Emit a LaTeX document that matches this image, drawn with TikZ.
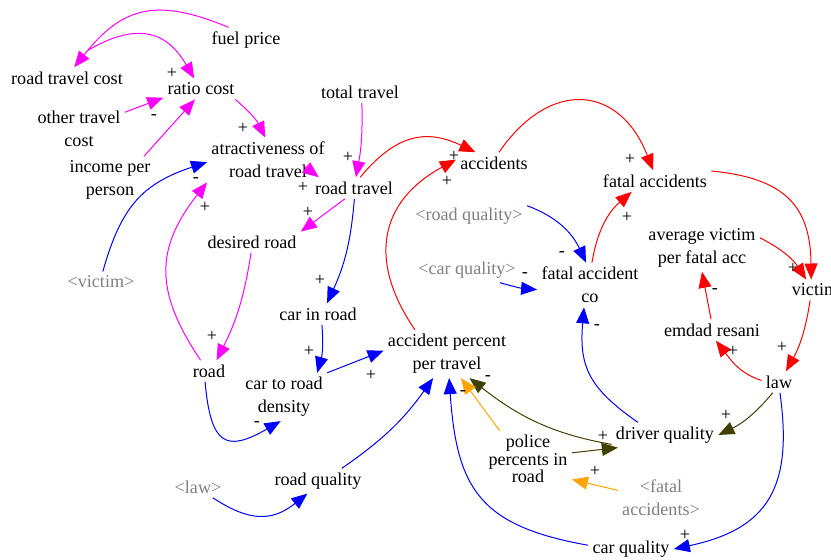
\documentclass[tikz,border=0pt]{standalone}
\usepackage{fontspec}
\setmainfont{Liberation Serif}
\usetikzlibrary{arrows.meta}
\definecolor{maglink}{RGB}{255,0,255}
\definecolor{olivelink}{RGB}{64,64,0}
\definecolor{orangelink}{RGB}{255,165,0}

\begin{document}
\begin{tikzpicture}[x=0.5pt, y=0.5pt, >={Triangle[length=8pt,width=6.5pt]},
    var/.style={align=center, inner sep=2pt, font=\fontsize{9.05}{11.5}\selectfont},
    ghost/.style={var, text=gray},
    sgn/.style={inner sep=0pt, font=\fontsize{9.05}{11.5}\selectfont},
    mag/.style={maglink, line width=0.5pt, ->},
    blu/.style={blue, line width=0.5pt, ->},
    rd/.style={red, line width=0.5pt, ->},
    olv/.style={olivelink, line width=0.5pt, ->},
    org/.style={orangelink, line width=0.5pt, ->}]
    \useasboundingbox (0,0) rectangle (831,-560);

    % Cost and attractiveness variables
    \node (rtc) at (67,-78) [var] {road travel cost};
    \node (fuel) at (246,-40) [var] {fuel price};
    \node (ratio) at (201,-89) [var] {ratio cost};
    \node (other) at (79,-129) [var] {other travel\\cost};
    \node (income) at (110,-180) [var] {income per\\person};
    \node (attr) at (268,-160) [var] {atractiveness of\\road travel};
    \node (total) at (360,-92) [var] {total travel};
    \node (rt) at (354,-188) [var] {road travel};
    \node (desired) at (252,-242) [var] {desired road};
    \node (vicref) at (101,-282) [ghost] {<victim>};

    % Road and density
    \node (carin) at (318,-314) [var] {car in road};
    \node (road) at (209,-371) [var] {road};
    \node (density) at (284,-397) [var] {car to road\\density};
    \node (app) at (447,-354) [var] {accident percent\\per travel};
    \node (rqual) at (318,-481) [var] {road quality};
    \node (lawref) at (198,-487) [ghost] {<law>};

    % Accidents, victims and law
    \node (acc) at (494,-163) [var] {accidents};
    \node (fatal) at (655,-181) [var] {fatal accidents};
    \node (rqref) at (469,-216) [ghost] {<road quality>};
    \node (cqref) at (467,-270) [ghost] {<car quality>};
    \node (fac) at (590,-285) [var] {fatal accident\\co};
    \node (avg) at (702,-248) [var] {average victim\\per fatal acc};
    \node (victim) at (815,-290) [var] {victim};
    \node (emdad) at (712,-330) [var] {emdad resani};
    \node (law) at (779,-382) [var] {law};
    \node (dq) at (665,-435) [var] {driver quality};
    \node (police) at (528,-459) [var, font=\fontsize{9.05}{8.8}\selectfont] {police\\percents in\\road};
    \node (faref) at (661,-498) [ghost] {<fatal\\accidents>};
    \node (cqual) at (631,-549) [var] {car quality};

    % Magenta links
    \draw[mag] (fuel.144) to[bend right=37, looseness=1.25] (rtc.56);
    \draw[mag] ([shift={(21,17)}]rtc.north) to[bend left=45, looseness=1.3] (ratio.123);
    \draw[mag] (other.20) -- (ratio.193);
    \draw[mag] (income.35) -- (ratio.240);
    \draw[mag] (ratio.-17) to[bend left=12] (attr.97);
    \draw[mag] (total.-80) to[bend left=6] (rt.80);
    \draw[mag] ([shift={(35,-5)}]attr.center) -- (rt.163);
    \draw[mag] (rt.230) -- (desired.12);
    \draw[mag] (desired.-95) to[bend left=9] (road.55);
    \draw[mag] (road.128) to[bend left=36, looseness=1.2] (attr.south west);

    % Blue links
    \draw[blu] (vicref.80) to[bend left=28, looseness=1.15] (attr.182);
    \draw[blu] (rt.-88) to[bend left=10] (carin.50);
    \draw[blu] (carin.-70) to[bend left=10] (density.36);
    \draw[blu] (density.north east) -- (app.177);
    \draw[blu] (road.250) to[out=-85, in=210, looseness=1.9] (density.262);
    \draw[blu] (lawref.-36) to[bend right=36, looseness=1.2] (rqual.230);
    \draw[blu] (rqual.28) to[bend right=10] (app.240);
    \draw[blu] (cqual.175) to[out=170, in=-86, looseness=1.3] (app.-85);
    \draw[blu] (law.-85) to[out=-82, in=12, looseness=1.3] (cqual.east);
    \draw[blu] (dq.155) to[bend left=30, looseness=1.2] (fac.255);
    \draw[blu] (rqref.10) to[out=-20, in=115] (fac.100);
    \draw[blu] (cqref.-21) to[bend right=6] (fac.185);

    % Red links
    \draw[rd] (rt.60) to[bend left=38, looseness=1.2] (acc.150);
    \draw[rd] (app.143) to[bend left=48, looseness=1.25] (acc.175);
    \draw[rd] (acc.65) to[bend left=62, looseness=1.5] (fatal.100);
    \draw[rd] (fac.85) to[bend left=20] (fatal.205);
    \draw[rd] (fatal.10) to[bend left=42, looseness=1.28] (victim.110);
    \draw[rd] (avg.10) to[bend left=15] (victim.130);
    \draw[rd] (victim.-115) to[bend left=10] (law.57);
    \draw[rd] (law.175) to[out=162, in=-52] (emdad.-70);
    \draw[rd] (emdad.95) -- (avg.south);

    % Driver quality and police
    \draw[olv] (law.240) to[bend left=12] (dq.east);
    \draw[olv] (dq.190) to[out=170, in=-38] (app.-47);
    \draw[olv] (police.8) -- (dq.195);
    \draw[org] (police.135) -- (app.-60);
    \draw[org] (faref.170) -- (police.-25);

    % Polarity signs
    \node (p1) at (172,-73) [sgn] {+};
    \node (p2) at (154,-117) [sgn] {-};
    \node (p3) at (243,-128) [sgn] {+};
    \node (p4) at (196,-180) [sgn] {-};
    \node (p5) at (205,-207) [sgn] {+};
    \node (p6) at (348,-157) [sgn] {+};
    \node (p7) at (303,-187) [sgn] {+};
    \node (p8) at (308,-212) [sgn] {+};
    \node (p9) at (320,-280) [sgn] {+};
    \node (p10) at (212,-336) [sgn] {+};
    \node (p11) at (309,-351) [sgn] {+};
    \node (p12) at (371,-375) [sgn] {+};
    \node (p13) at (257,-424) [sgn] {-};
    \node (p14) at (463,-393) [sgn] {-};
    \node (p15) at (488,-378) [sgn] {-};
    \node (p16) at (454,-156) [sgn] {+};
    \node (p17) at (447,-181) [sgn] {+};
    \node (p18) at (630,-159) [sgn] {+};
    \node (p19) at (627,-217) [sgn] {+};
    \node (p20) at (562,-254) [sgn] {-};
    \node (p21) at (525,-275) [sgn] {-};
    \node (p22) at (597,-327) [sgn] {-};
    \node (p23) at (793,-268) [sgn] {+};
    \node (p24) at (715,-291) [sgn] {-};
    \node (p25) at (733,-351) [sgn] {+};
    \node (p26) at (782,-347) [sgn] {+};
    \node (p27) at (726,-415) [sgn] {+};
    \node (p28) at (603,-436) [sgn] {+};
    \node (p29) at (595,-471) [sgn] {+};
    \node (p30) at (685,-535) [sgn] {+};
\end{tikzpicture}
\end{document}
